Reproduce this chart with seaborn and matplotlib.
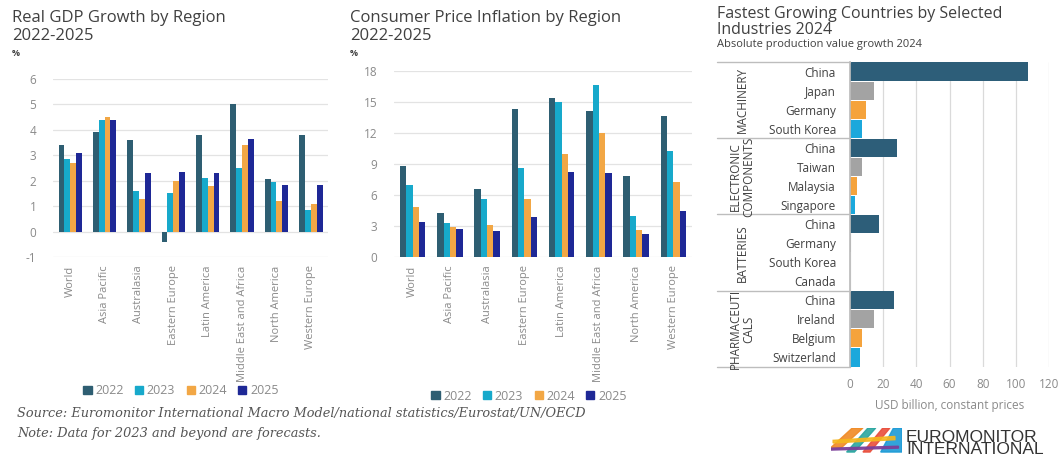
import numpy as np
import pandas as pd
import matplotlib
matplotlib.use('Agg')
import matplotlib.pyplot as plt
import matplotlib.transforms as mtransforms
from matplotlib.patches import Polygon
import seaborn as sns

# dados
regioes = ['World', 'Asia Pacific', 'Australasia', 'Eastern Europe', 'Latin America',
           'Middle East and Africa', 'North America', 'Western Europe']
anos = ['2022', '2023', '2024', '2025']

gdp_2022 = [3.4, 3.9, 3.6, -0.4, 3.8, 5.0, 2.05, 3.8]
gdp_2023 = [2.85, 4.4, 1.6, 1.5, 2.1, 2.5, 1.95, 0.85]
gdp_2024 = [2.7, 4.5, 1.3, 2.0, 1.8, 3.4, 1.2, 1.1]
gdp_2025 = [3.1, 4.4, 2.3, 2.35, 2.3, 3.65, 1.85, 1.85]

cpi_2022 = [8.8, 4.3, 6.6, 14.3, 15.4, 14.1, 7.85, 13.65]
cpi_2023 = [6.95, 3.3, 5.6, 8.6, 15.0, 16.65, 4.0, 10.25]
cpi_2024 = [4.85, 2.9, 3.1, 5.6, 10.0, 12.0, 2.65, 7.25]
cpi_2025 = [3.4, 2.75, 2.55, 3.9, 8.2, 8.15, 2.2, 4.5]

setores = ['MACHINERY', 'ELECTRONIC\nCOMPONENTS', 'BATTERIES', 'PHARMACEUTI\nCALS']
paises = [['China', 'Japan', 'Germany', 'South Korea'],
          ['China', 'Taiwan', 'Malaysia', 'Singapore'],
          ['China', 'Germany', 'South Korea', 'Canada'],
          ['China', 'Ireland', 'Belgium', 'Switzerland']]
crescimento = [[107.5, 14.5, 9.5, 7.0],
               [28.5, 7.0, 4.5, 3.2],
               [17.2, 0.6, 0.0, 0.0],
               [26.5, 14.5, 7.0, 6.3]]
xticks_ind = [0, 20, 40, 60, 80, 100, 120]

cores_anos = ['#2E5E72', '#17A9CB', '#F2A745', '#1E2896']
cores_ind = ['#2D5E79', '#A3A3A3', '#F5A33C', '#1BA8DC']
cinza = '#8A8A8A'
texto = '#404040'

sns.set_theme(style='white')
plt.rcParams['font.family'] = ['Open Sans', 'DejaVu Sans']

W, H = 1061, 459
fig = plt.figure(figsize=(W / 100, H / 100), dpi=100)


def caixa(x0, y0, x1, y1):
    return [x0 / W, 1 - y1 / H, (x1 - x0) / W, (y1 - y0) / H]


def fx(x):
    return x / W


def fy(y):
    return 1 - y / H


def grafico_barras(ax, series, ylim, yticks):
    df = pd.DataFrame({
        'region': regioes * len(anos),
        'year': np.repeat(anos, len(regioes)),
        'value': np.concatenate(series),
    })
    sns.barplot(data=df, x='region', y='value', hue='year', palette=cores_anos,
                width=0.68, gap=0, ax=ax, legend=False, saturation=1, linewidth=0)
    ax.set_ylim(*ylim)
    ax.set_yticks(yticks)
    ax.set_yticklabels([f'{v:g}' for v in yticks])
    ax.yaxis.grid(True, color='#E3E3E3', linewidth=0.9)
    ax.set_axisbelow(True)
    for s in ax.spines.values():
        s.set_visible(False)
    ax.set_xlabel('')
    ax.set_ylabel('')
    ax.tick_params(axis='x', labelrotation=90, length=0, pad=6, labelsize=8, labelcolor=cinza)
    ax.tick_params(axis='y', length=0, pad=12, labelsize=8.5, labelcolor=cinza)
    ax.set_xlim(-0.5, len(regioes) - 0.5)


# GDP
ax1 = fig.add_axes(caixa(53, 79, 328, 257))
grafico_barras(ax1, [gdp_2022, gdp_2023, gdp_2024, gdp_2025], (-1, 6), list(range(-1, 7)))

# CPI
ax2 = fig.add_axes(caixa(394, 71, 692, 257))
grafico_barras(ax2, [cpi_2022, cpi_2023, cpi_2024, cpi_2025], (0, 18), list(range(0, 19, 3)))


def legenda(cx, cy):
    handles = [plt.Rectangle((0, 0), 1, 1, color=c) for c in cores_anos]
    fig.legend(handles, anos, loc='center', bbox_to_anchor=(fx(cx), fy(cy)), ncol=4,
               frameon=False, fontsize=9, handlelength=0.65, handleheight=0.65,
               handletextpad=0.3, columnspacing=0.9, labelcolor=cinza)


legenda(181, 391)
legenda(529, 396)

# títulos
fig.text(fx(12), fy(27), 'Real GDP Growth by Region\n2022-2025', fontsize=12, color=texto,
         va='center', ha='left', linespacing=1.2)
fig.text(fx(12), fy(53), '%', fontsize=6.5, color=texto, va='center', fontweight='bold')
fig.text(fx(350), fy(27), 'Consumer Price Inflation by Region\n2022-2025', fontsize=12, color=texto,
         va='center', ha='left', linespacing=1.2)
fig.text(fx(350), fy(53), '%', fontsize=6.5, color=texto, va='center', fontweight='bold')

# indústrias
ax3 = fig.add_axes(caixa(850, 62, 1049, 367))
linhas = []
for gi, setor in enumerate(setores):
    for pi, pais in enumerate(paises[gi]):
        linhas.append({'row': f'{gi}-{pi}', 'pais': pais, 'pos': str(pi),
                       'valor': crescimento[gi][pi]})
dfi = pd.DataFrame(linhas)
sns.barplot(data=dfi, y='row', x='valor', hue='pos', palette=cores_ind, dodge=False,
            width=0.95, ax=ax3, legend=False, saturation=1, orient='h', linewidth=0)
ax3.set_yticks(range(len(dfi)))
ax3.set_yticklabels(dfi['pais'])
ax3.set_xlim(0, 120)
ax3.set_xticks(xticks_ind)
ax3.set_ylim(len(dfi) - 0.5, -0.5)
ax3.xaxis.grid(True, color='#DADADA', linewidth=0.9)
ax3.set_axisbelow(True)
for k, s in ax3.spines.items():
    s.set_visible(k == 'left')
ax3.spines['left'].set_color('#BDBDBD')
ax3.tick_params(axis='y', length=0, pad=10, labelsize=8.5, labelcolor=texto)
ax3.tick_params(axis='x', length=0, pad=8, labelsize=8.5, labelcolor=cinza)
ax3.set_xlabel('USD billion, constant prices', fontsize=8.5, color=cinza, labelpad=6)
ax3.set_ylabel('')

trans = mtransforms.blended_transform_factory(ax3.transAxes, ax3.transData)
x_esq = (717 - 850) / 199
limites = [-0.5]
for gi in range(len(setores)):
    limites.append(limites[-1] + len(paises[gi]))
for b in limites:
    ax3.plot([x_esq, 0], [b, b], transform=trans, color='#BDBDBD', linewidth=1, clip_on=False)
for gi, setor in enumerate(setores):
    meio = (limites[gi] + limites[gi + 1]) / 2
    ax3.text((742 - 850) / 199, meio, setor, transform=trans, rotation=90, ha='center',
             va='center', fontsize=8.5, color=texto, linespacing=1.0)

fig.text(fx(717), fy(22), 'Fastest Growing Countries by Selected\nIndustries 2024', fontsize=11.5,
         color=texto, va='center', ha='left', linespacing=0.95)
fig.text(fx(717), fy(44), 'Absolute production value growth 2024', fontsize=8, color=texto,
         va='center', ha='left')

# fonte
fig.text(fx(17), fy(413), 'Source: Euromonitor International Macro Model/national statistics/Eurostat/UN/OECD',
         fontsize=9.3, style='italic', color='#555555', family='DejaVu Serif', va='center')
fig.text(fx(17), fy(433), 'Note: Data for 2023 and beyond are forecasts.',
         fontsize=9.3, style='italic', color='#555555', family='DejaVu Serif', va='center')

# logo
axl = fig.add_axes(caixa(831, 428, 902, 454))
axl.set_xlim(0, 10)
axl.set_ylim(0, 4)
axl.axis('off')
faixas = [('#F08A24', [(0, 1), (3, 4), (4.5, 4), (1.5, 1)]),
          ('#2AA6A0', [(2.2, 0.3), (5.2, 4), (6.3, 4), (3.3, 0.3)]),
          ('#E94E3C', [(4.5, 0.3), (7.3, 4), (8.3, 4), (5.5, 0.3)]),
          ('#1C9AD6', [(7, 0.3), (8.8, 4), (10, 4), (10, 0.3)]),
          ('#F5B71E', [(0.3, 1.7), (9, 2.2), (9, 2.7), (0.3, 2.1)]),
          ('#7B3F99', [(0, 0.6), (9.5, 0.9), (9.5, 1.2), (0, 0.9)])]
for cor, pts in faixas:
    axl.add_patch(Polygon(pts, closed=True, color=cor, alpha=0.9))
fig.text(fx(906), fy(437), 'EUROMONITOR', fontsize=12.5, color='#333333', family='Liberation Sans',
         va='center', ha='left')
fig.text(fx(906), fy(450), 'INTERNATIONAL', fontsize=12.5, color='#333333', family='Liberation Sans',
         va='center', ha='left')

fig.savefig('out.png', dpi=100, facecolor='white')
